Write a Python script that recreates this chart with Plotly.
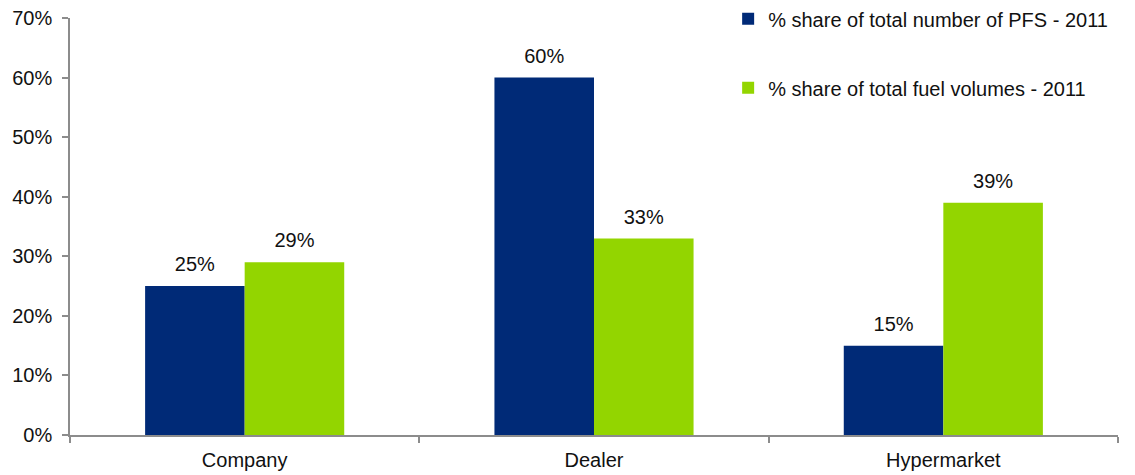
import plotly.graph_objects as go

# Forecourt ownership split, UK 2011
categories = ["Company", "Dealer", "Hypermarket"]
share_sites = [25, 60, 15]      # % share of total number of PFS
share_volume = [29, 33, 39]     # % share of total fuel volumes
series_names = ["% share of total number of PFS - 2011",
                "% share of total fuel volumes - 2011"]
y_ticks = [0, 10, 20, 30, 40, 50, 60, 70]
y_tick_labels = [f"{v}%" for v in y_ticks]

BLUE = "#002A77"
GREEN = "#93D500"
AXIS = "#8C8C8C"
FONT = "Liberation Sans, Arial, sans-serif"
FS = 20
GAP = 0.43

fig = go.Figure()
for i, (name, vals, col) in enumerate(zip(series_names, [share_sites, share_volume], [BLUE, GREEN])):
    fig.add_trace(go.Bar(
        x=categories, y=vals, name=name, marker=dict(color=col, line=dict(width=0)),
        legendgroup=f"g{i}", offsetgroup=f"o{i}", hoverinfo="skip",
    ))
# value labels above each bar
for i, vals in enumerate([share_sites, share_volume]):
    fig.add_trace(go.Scatter(
        x=categories, y=vals, mode="markers+text",
        text=[f"{v}%" for v in vals], textposition="top center",
        textfont=dict(size=FS, color="#111111", family=FONT),
        marker=dict(size=14, opacity=0), offsetgroup=f"o{i}",
        showlegend=False, hoverinfo="skip",
    ))

fig.update_layout(
    width=1135, height=475,
    margin=dict(l=70, r=17, t=18, b=40, autoexpand=False),
    paper_bgcolor="white", plot_bgcolor="white",
    barmode="group", bargap=GAP, bargroupgap=0,
    scattermode="group", scattergap=GAP,
    font=dict(family=FONT, size=FS, color="#111111"),
    showlegend=True,
    legend=dict(
        x=0.628, y=1.045, xanchor="left", yanchor="top",
        bgcolor="rgba(0,0,0,0)", traceorder="grouped", tracegroupgap=40,
        itemwidth=30, font=dict(size=FS, family=FONT, color="#111111"),
    ),
)
fig.update_xaxes(
    showline=True, linecolor=AXIS, linewidth=1.5,
    ticks="outside", tickson="boundaries", ticklen=6, tickcolor=AXIS, tickwidth=1.5,
    showgrid=False, tickfont=dict(size=FS), ticklabelstandoff=6,
)
fig.update_yaxes(
    range=[0, 70], tickvals=y_ticks, ticktext=y_tick_labels,
    showline=True, linecolor=AXIS, linewidth=1.5,
    ticks="outside", ticklen=6, tickcolor=AXIS, tickwidth=1.5,
    showgrid=False, zeroline=False, tickfont=dict(size=FS), ticklabelstandoff=6,
)

fig.write_html("out.html")
